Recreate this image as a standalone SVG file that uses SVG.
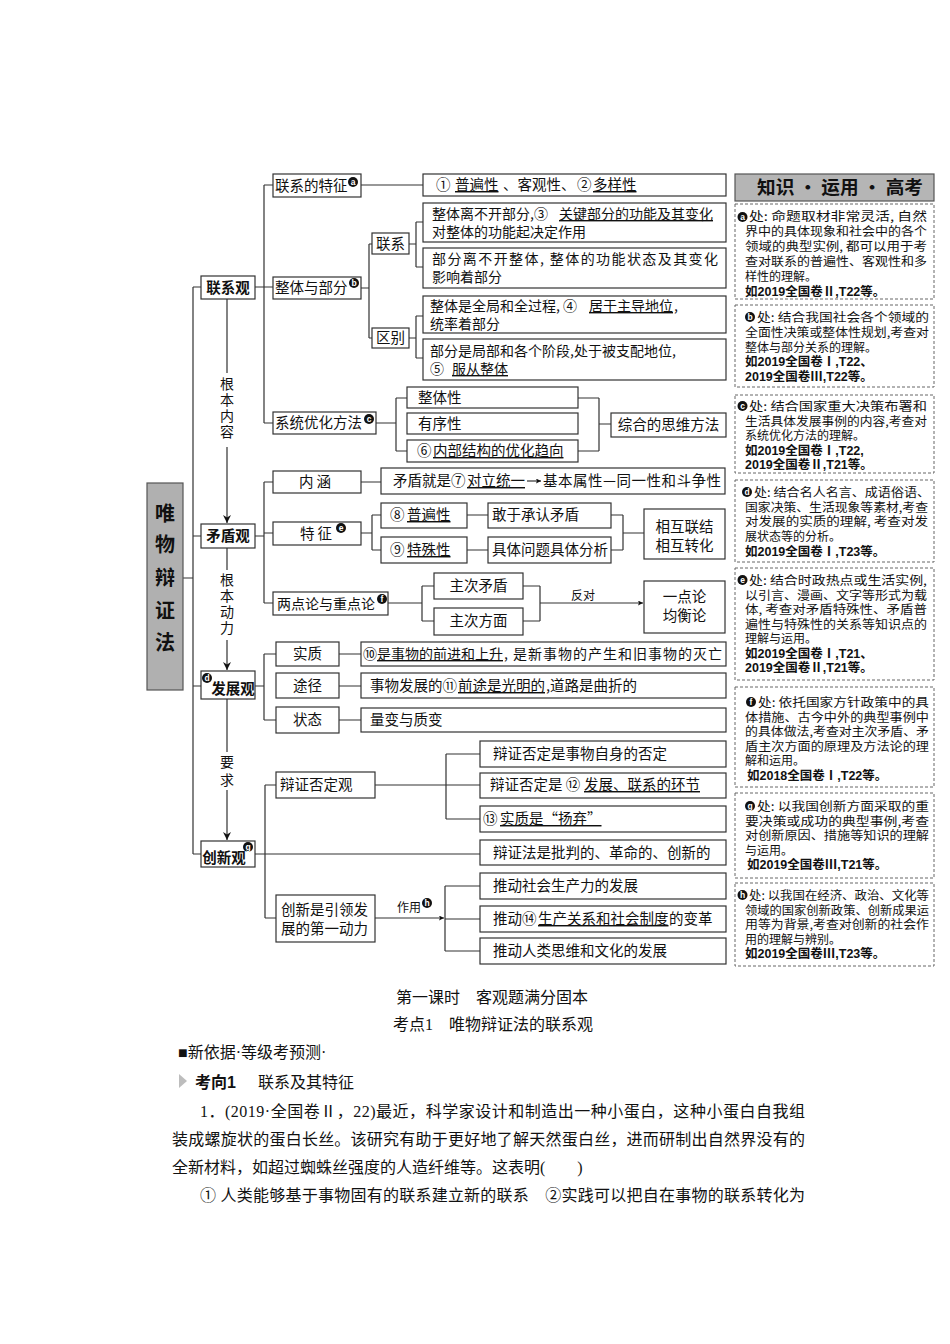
<svg xmlns="http://www.w3.org/2000/svg" width="950" height="1344" viewBox="0 0 950 1344">
<style>
.bx{fill:#fff;stroke:#333;stroke-width:1.2}
.ln{fill:none;stroke:#333;stroke-width:1.2}
.ds{fill:#fff;stroke:#666;stroke-width:1;stroke-dasharray:3,2}
text{font-family:"Noto Sans CJK SC","Noto Sans CJK JP",sans-serif;fill:#111}
.t{font-size:14.5px}
.t2{font-size:14px}
.tb{font-size:14.5px;font-weight:bold}
.vt{font-size:14px;writing-mode:vertical-rl;letter-spacing:2px}
.sm{font-size:12px}
.r{font-size:12px}
.rb{font-size:12.5px;font-weight:bold;font-family:"Liberation Sans","Noto Sans CJK SC",sans-serif}
.u{text-decoration:underline}
.bd{fill:#111}
.bl{font-size:8.5px;font-weight:bold;fill:#fff;font-family:"Liberation Sans",sans-serif}
.p{font-size:16px;font-family:"Liberation Serif","Noto Sans CJK SC",serif}
.m{text-anchor:middle}
</style>
<defs>
<marker id="ah" viewBox="0 0 10 10" refX="10" refY="5" markerWidth="13" markerHeight="8" markerUnits="userSpaceOnUse" orient="auto"><path d="M0,0 L10,5 L0,10 L3,5 z" fill="#111"/></marker>
<marker id="as" viewBox="0 0 10 10" refX="10" refY="5" markerWidth="7" markerHeight="5" markerUnits="userSpaceOnUse" orient="auto"><path d="M0,0 L10,5 L0,10 L2,5 z" fill="#111"/></marker>
</defs>

<g id="connectors">
<path class="ln" d="M183,578 H193 M193,287 V854 M193,287 H201 M193,536 H201 M193,686 H201 M193,854 H201"/>
<path class="ln" d="M227,299 V373 M227,447 V523" marker-end="url(#ah)"/>
<path class="ln" d="M227,548 V570 M227,640 V670" marker-end="url(#ah)"/>
<path class="ln" d="M227,699 V752 M227,790 V840" marker-end="url(#ah)"/>
<path class="ln" d="M255,287 H273 M264,185 V423 M264,185 H273 M264,423 H273 M361,185 H423"/>
<path class="ln" d="M361,288 H369 M369,244 V338 M369,244 H372 M369,338 H372"/>
<path class="ln" d="M409,244 H416 M416,222 V267 M416,222 H423 M416,267 H423"/>
<path class="ln" d="M409,338 H416 M416,316 V358 M416,316 H423 M416,358 H423"/>
<path class="ln" d="M376,423 H396 M396,398 V451 M396,398 H407 M396,451 H407"/>
<path class="ln" d="M578,398 H599 M578,451 H599 M599,398 V451 M599,424 H611"/>
<path class="ln" d="M255,536 H264 M264,482 V603 M264,482 H273 M264,533 H273 M264,603 H273 M361,482 H381"/>
<path class="ln" d="M361,533 H372 M372,515 V550 M372,515 H381 M372,550 H381 M467,515 H488 M467,550 H488"/>
<path class="ln" d="M611,515 H623 M611,550 H623 M623,515 V550 M623,533 H644"/>
<path class="ln" d="M388,603 H422 M422,586 V621 M422,586 H434 M422,621 H434 M523,586 H540 M523,621 H540 M540,586 V621"/>
<path class="ln" d="M540,603 H643" marker-end="url(#as)"/>
<path class="ln" d="M255,686 H264 M264,654 V720 M264,654 H276 M264,720 H276 M339,654 H361 M339,686 H361 M339,720 H361"/>
<path class="ln" d="M255,854 H480 M265,785 V918 M265,785 H276 M265,918 H276"/>
<path class="ln" d="M375,785 H480 M446,754 V819 M446,754 H480 M446,819 H480"/>
<path class="ln" d="M375,918 H444" marker-end="url(#as)"/>
<path class="ln" d="M445,886 V951 M445,886 H480 M445,919 H480 M445,951 H480"/>
</g>

<g id="root">
<rect x="147" y="483" width="36" height="207" fill="#b0b0b0" stroke="#555" stroke-width="1.2"/>
<text x="165" y="521" class="m" style="font-size:20px;font-weight:bold">唯</text>
<text x="165" y="552" class="m" style="font-size:20px;font-weight:bold">物</text>
<text x="165" y="585" class="m" style="font-size:20px;font-weight:bold">辩</text>
<text x="165" y="618" class="m" style="font-size:20px;font-weight:bold">证</text>
<text x="165" y="650" class="m" style="font-size:20px;font-weight:bold">法</text>
</g>

<g id="labels">
<text x="227" y="377" class="vt">根本内容</text>
<text x="227" y="573" class="vt">根本动力</text>
<text x="227" y="755" class="vt" style="letter-spacing:4px">要求</text>
<text x="583" y="600" class="sm m">反对</text>
<text x="409" y="912" class="sm m">作用</text>
<circle cx="427" cy="903" r="5" class="bd"/><text x="427" y="906" class="bl m">h</text>
</g>

<g id="n-lianxiguan"><rect x="201" y="276" width="54" height="23" class="bx"/><text x="228" y="293" class="tb m">联系观</text></g>
<g id="n-maodunguan"><rect x="201" y="524" width="54" height="24" class="bx"/><text x="228" y="541" class="tb m">矛盾观</text></g>
<g id="n-fazhanguan"><rect x="201" y="671" width="54" height="28" class="bx"/><text x="233" y="694" class="tb m">发展观</text><circle cx="207" cy="678" r="5" class="bd"/><text x="207" y="681" class="bl m">d</text></g>
<g id="n-chuangxinguan"><rect x="201" y="841" width="54" height="26" class="bx"/><text x="224" y="863" class="tb m">创新观</text><circle cx="248" cy="847" r="5" class="bd"/><text x="248" y="850" class="bl m">g</text></g>

<g id="n-tezheng"><rect x="273" y="174" width="88" height="23" class="bx"/><text x="275" y="191" class="t">联系的特征</text><circle cx="353" cy="182" r="5" class="bd"/><text x="353" y="185" class="bl m">a</text></g>
<g id="n-tezheng-c"><rect x="423" y="174" width="303" height="22" class="bx"/>
<text x="436" y="190" class="t">①</text>
<text x="455" y="190" class="t u">普遍性 </text>
<text x="503" y="190" class="t">、客观性、</text>
<text x="577" y="190" class="t">②</text>
<text x="593" y="190" class="t u">多样性</text></g>
<g id="n-zhengti"><rect x="273" y="277" width="88" height="22" class="bx"/><text x="275" y="293" class="t">整体与部分</text><circle cx="354" cy="283" r="5" class="bd"/><text x="354" y="286" class="bl m">b</text></g>
<g id="n-lianxi"><rect x="372" y="233" width="37" height="21" class="bx"/><text x="390.5" y="249" class="t m">联系</text></g>
<g id="n-qubie"><rect x="372" y="328" width="37" height="20" class="bx"/><text x="390.5" y="343" class="t m">区别</text></g>
<g id="n-lx1"><rect x="423" y="203" width="303" height="39" class="bx"/>
<text x="432" y="219" class="t2">整体离不开部分,③</text>
<text x="559" y="219" class="t2 u">关键部分的功能及其变化</text>
<text x="432" y="237" class="t2">对整体的功能起决定作用</text></g>
<g id="n-lx2"><rect x="423" y="248" width="303" height="40" class="bx"/>
<text x="432" y="264" class="t2" textLength="286">部分离不开整体, 整体的功能状态及其变化</text>
<text x="432" y="282" class="t2">影响着部分</text></g>
<g id="n-qb1"><rect x="423" y="296" width="303" height="37" class="bx"/>
<text x="430" y="311" class="t2">整体是全局和全过程, ④</text>
<text x="589" y="311" class="t2 u">居于主导地位</text>
<text x="674" y="311" class="t2">,</text>
<text x="430" y="329" class="t2">统率着部分</text></g>
<g id="n-qb2"><rect x="423" y="339" width="303" height="41" class="bx"/>
<text x="430" y="356" class="t2">部分是局部和各个阶段,处于被支配地位,</text>
<text x="430" y="374" class="t2">⑤</text>
<text x="452" y="374" class="t2 u">服从整体</text></g>
<g id="n-xitong"><rect x="273" y="412" width="103" height="22" class="bx"/><text x="275" y="428" class="t">系统优化方法</text><circle cx="369" cy="419" r="5" class="bd"/><text x="369" y="422" class="bl m">c</text></g>
<g id="n-zhengtixing"><rect x="407" y="387" width="171" height="21" class="bx"/><text x="418" y="403" class="t">整体性</text></g>
<g id="n-youxuxing"><rect x="407" y="413" width="171" height="21" class="bx"/><text x="418" y="429" class="t">有序性</text></g>
<g id="n-youhua"><rect x="407" y="440" width="171" height="22" class="bx"/><text x="417" y="456" class="t">⑥</text><text x="433" y="456" class="t u">内部结构的优化趋向</text></g>
<g id="n-zonghe"><rect x="611" y="413" width="115" height="24" class="bx"/><text x="668.5" y="430" class="t m">综合的思维方法</text></g>

<g id="n-neihan"><rect x="273" y="471" width="88" height="22" class="bx"/><text x="315" y="487" class="t m">内  涵</text></g>
<g id="n-neihan-c"><rect x="381" y="468" width="344" height="26" class="bx"/>
<text x="393" y="486" class="t">矛盾就是⑦</text>
<text x="467" y="486" class="t u">对立统一</text>
<path class="ln" d="M527,481 H541" marker-end="url(#as)"/>
<text x="543" y="486" class="t" textLength="178">基本属性—同一性和斗争性</text></g>
<g id="n-tezheng2"><rect x="273" y="522" width="88" height="23" class="bx"/><text x="316" y="539" class="t m">特  征</text><circle cx="341" cy="528" r="5" class="bd"/><text x="341" y="531" class="bl m">e</text></g>
<g id="n-pubian"><rect x="381" y="503" width="86" height="25" class="bx"/><text x="390" y="520" class="t">⑧</text><text x="407" y="520" class="t u">普遍性</text></g>
<g id="n-teshu"><rect x="381" y="537" width="86" height="26" class="bx"/><text x="390" y="555" class="t">⑨</text><text x="407" y="555" class="t u">特殊性</text></g>
<g id="n-ganyu"><rect x="488" y="503" width="123" height="25" class="bx"/><text x="492" y="520" class="t">敢于承认矛盾</text></g>
<g id="n-juti"><rect x="488" y="537" width="123" height="26" class="bx"/><text x="492" y="555" class="t">具体问题具体分析</text></g>
<g id="n-xianghu"><rect x="644" y="509" width="81" height="50" class="bx"/><text x="684.5" y="532" class="t m">相互联结</text><text x="684.5" y="551" class="t m">相互转化</text></g>
<g id="n-liangdian"><rect x="273" y="592" width="115" height="23" class="bx"/><text x="277" y="609" class="t" style="font-size:14px">两点论与重点论</text><circle cx="382" cy="599" r="5" class="bd"/><text x="382" y="602" class="bl m">f</text></g>
<g id="n-zhuci1"><rect x="434" y="573" width="89" height="26" class="bx"/><text x="478.5" y="591" class="t m">主次矛盾</text></g>
<g id="n-zhuci2"><rect x="434" y="608" width="89" height="27" class="bx"/><text x="478.5" y="626" class="t m">主次方面</text></g>
<g id="n-yidian"><rect x="644" y="581" width="81" height="52" class="bx"/><text x="684.5" y="602" class="t m">一点论</text><text x="684.5" y="621" class="t m">均衡论</text></g>

<g id="n-shizhi"><rect x="276" y="642" width="63" height="24" class="bx"/><text x="307.5" y="659" class="t m">实质</text></g>
<g id="n-shizhi-c"><rect x="361" y="642" width="365" height="24" class="bx"/>
<text x="363" y="659" class="t2">⑩</text>
<text x="377" y="659" class="t2 u">是事物的前进和上升</text>
<text x="504" y="659" class="t2" textLength="218">, 是新事物的产生和旧事物的灭亡</text></g>
<g id="n-tujing"><rect x="276" y="673" width="63" height="25" class="bx"/><text x="307.5" y="691" class="t m">途径</text></g>
<g id="n-tujing-c"><rect x="361" y="673" width="365" height="25" class="bx"/>
<text x="370" y="691" class="t">事物发展的⑪</text>
<text x="458" y="691" class="t u">前途是光明的</text>
<text x="546" y="691" class="t">,道路是曲折的</text></g>
<g id="n-zhuangtai"><rect x="276" y="707" width="63" height="26" class="bx"/><text x="307.5" y="725" class="t m">状态</text></g>
<g id="n-zhuangtai-c"><rect x="361" y="708" width="365" height="24" class="bx"/><text x="370" y="725" class="t">量变与质变</text></g>

<g id="n-fouding"><rect x="276" y="772" width="99" height="26" class="bx"/><text x="280" y="790" class="t">辩证否定观</text></g>
<g id="n-fd1"><rect x="480" y="741" width="246" height="26" class="bx"/><text x="493" y="759" class="t">辩证否定是事物自身的否定</text></g>
<g id="n-fd2"><rect x="480" y="773" width="246" height="25" class="bx"/><text x="490" y="790" class="t">辩证否定是 ⑫</text><text x="584" y="790" class="t u">发展、联系的环节</text></g>
<g id="n-fd3"><rect x="480" y="806" width="246" height="26" class="bx"/><text x="483" y="824" class="t">⑬</text><text x="500" y="824" class="t u">实质是“扬弃”</text></g>
<g id="n-bianzhengfa"><rect x="480" y="840" width="246" height="25" class="bx"/><text x="493" y="858" class="t">辩证法是批判的、革命的、创新的</text></g>
<g id="n-dongli"><rect x="276" y="895" width="99" height="47" class="bx"/><text x="281" y="915" class="t">创新是引领发</text><text x="281" y="934" class="t">展的第一动力</text></g>
<g id="n-zy1"><rect x="480" y="873" width="246" height="26" class="bx"/><text x="493" y="891" class="t">推动社会生产力的发展</text></g>
<g id="n-zy2"><rect x="480" y="906" width="246" height="26" class="bx"/><text x="493" y="924" class="t">推动⑭</text><text x="538" y="924" class="t u">生产关系和社会制度</text><text x="669" y="924" class="t">的变革</text></g>
<g id="n-zy3"><rect x="480" y="938" width="246" height="26" class="bx"/><text x="493" y="956" class="t">推动人类思维和文化的发展</text></g>

<g id="panel">
<rect x="735" y="174" width="199" height="27" fill="#b5b5b5" stroke="#555" stroke-width="1.2"/>
<text x="840" y="194" class="m" style="font-size:18px;font-weight:bold" textLength="166" lengthAdjust="spacingAndGlyphs">知识 · 运用 · 高考</text>

<rect x="735" y="204" width="199" height="95" class="ds"/>
<circle cx="742.5" cy="217" r="5" class="bd"/><text x="742.5" y="220" class="bl m">a</text>
<text x="749" y="221" class="r" textLength="178" lengthAdjust="spacingAndGlyphs">处: 命题取材非常灵活, 自然</text>
<text x="745" y="236" class="r" textLength="182" lengthAdjust="spacingAndGlyphs">界中的具体现象和社会中的各个</text>
<text x="745" y="251" class="r" textLength="182" lengthAdjust="spacingAndGlyphs">领域的典型实例, 都可以用于考</text>
<text x="745" y="266" class="r" textLength="182" lengthAdjust="spacingAndGlyphs">查对联系的普遍性、客观性和多</text>
<text x="745" y="281" class="r">样性的理解。</text>
<text x="745" y="296" class="rb">如2019全国卷Ⅱ,T22等。</text>

<rect x="735" y="305" width="199" height="82" class="ds"/>
<circle cx="750" cy="317" r="5" class="bd"/><text x="750" y="320" class="bl m">b</text>
<text x="757" y="322" class="r" textLength="172" lengthAdjust="spacingAndGlyphs">处: 结合我国社会各个领域的</text>
<text x="745" y="337" class="r" textLength="184" lengthAdjust="spacingAndGlyphs">全面性决策或整体性规划,考查对</text>
<text x="745" y="352" class="r">整体与部分关系的理解。</text>
<text x="745" y="366" class="rb">如2019全国卷Ⅰ,T22、</text>
<text x="745" y="381" class="rb">2019全国卷Ⅲ,T22等。</text>

<rect x="735" y="395" width="199" height="78" class="ds"/>
<circle cx="742.5" cy="406" r="5" class="bd"/><text x="742.5" y="409" class="bl m">c</text>
<text x="749" y="411" class="r" textLength="178" lengthAdjust="spacingAndGlyphs">处: 结合国家重大决策布署和</text>
<text x="745" y="425.5" class="r" textLength="182" lengthAdjust="spacingAndGlyphs">生活具体发展事例的内容,考查对</text>
<text x="745" y="440" class="r">系统优化方法的理解。</text>
<text x="745" y="454.5" class="rb">如2019全国卷Ⅰ,T22,</text>
<text x="745" y="469" class="rb">2019全国卷Ⅱ,T21等。</text>

<rect x="735" y="480" width="199" height="82" class="ds"/>
<circle cx="747" cy="492" r="5" class="bd"/><text x="747" y="495" class="bl m">d</text>
<text x="754" y="497" class="r" textLength="176" lengthAdjust="spacingAndGlyphs">处: 结合名人名言、成语俗语、</text>
<text x="745" y="511.5" class="r" textLength="183" lengthAdjust="spacingAndGlyphs">国家决策、生活现象等素材,考查</text>
<text x="745" y="526" class="r" textLength="183" lengthAdjust="spacingAndGlyphs">对发展的实质的理解, 考查对发</text>
<text x="745" y="541" class="r">展状态等的分析。</text>
<text x="745" y="556" class="rb">如2019全国卷Ⅰ,T23等。</text>

<rect x="735" y="568" width="199" height="112" class="ds"/>
<circle cx="742.5" cy="580" r="5" class="bd"/><text x="742.5" y="583" class="bl m">e</text>
<text x="749" y="585" class="r" textLength="178" lengthAdjust="spacingAndGlyphs">处: 结合时政热点或生活实例,</text>
<text x="745" y="599.5" class="r" textLength="182" lengthAdjust="spacingAndGlyphs">以引言、漫画、文字等形式为载</text>
<text x="745" y="614" class="r" textLength="182" lengthAdjust="spacingAndGlyphs">体, 考查对矛盾特殊性、矛盾普</text>
<text x="745" y="628.5" class="r" textLength="182" lengthAdjust="spacingAndGlyphs">遍性与特殊性的关系等知识点的</text>
<text x="745" y="643" class="r">理解与运用。</text>
<text x="745" y="657.5" class="rb">如2019全国卷Ⅰ,T21、</text>
<text x="745" y="672" class="rb">2019全国卷Ⅱ,T21等。</text>

<rect x="735" y="687" width="199" height="100" class="ds"/>
<circle cx="751" cy="702" r="5" class="bd"/><text x="751" y="705" class="bl m">f</text>
<text x="758" y="707" class="r" textLength="171" lengthAdjust="spacingAndGlyphs">处: 依托国家方针政策中的具</text>
<text x="745" y="721.5" class="r" textLength="184" lengthAdjust="spacingAndGlyphs">体措施、古今中外的典型事例中</text>
<text x="745" y="736" class="r" textLength="184" lengthAdjust="spacingAndGlyphs">的具体做法,考查对主次矛盾、矛</text>
<text x="745" y="750.5" class="r" textLength="184" lengthAdjust="spacingAndGlyphs">盾主次方面的原理及方法论的理</text>
<text x="745" y="765" class="r">解和运用。</text>
<text x="747" y="779.5" class="rb">如2018全国卷Ⅰ,T22等。</text>

<rect x="735" y="793" width="199" height="85" class="ds"/>
<circle cx="750" cy="806" r="5" class="bd"/><text x="750" y="809" class="bl m">g</text>
<text x="757" y="811" class="r" textLength="172" lengthAdjust="spacingAndGlyphs">处: 以我国创新方面采取的重</text>
<text x="745" y="825.5" class="r" textLength="184" lengthAdjust="spacingAndGlyphs">要决策或成功的典型事例,考查</text>
<text x="745" y="840" class="r" textLength="184" lengthAdjust="spacingAndGlyphs">对创新原因、措施等知识的理解</text>
<text x="745" y="854.5" class="r">与运用。</text>
<text x="747" y="869" class="rb">如2019全国卷Ⅲ,T21等。</text>

<rect x="735" y="883" width="199" height="83" class="ds"/>
<circle cx="742.5" cy="895" r="5" class="bd"/><text x="742.5" y="898" class="bl m">h</text>
<text x="749" y="900" class="r" textLength="180" lengthAdjust="spacingAndGlyphs">处: 以我国在经济、政治、文化等</text>
<text x="745" y="914.5" class="r" textLength="184" lengthAdjust="spacingAndGlyphs">领域的国家创新政策、创新成果运</text>
<text x="745" y="929" class="r" textLength="184" lengthAdjust="spacingAndGlyphs">用等为背景,考查对创新的社会作</text>
<text x="745" y="943.5" class="r">用的理解与辨别。</text>
<text x="745" y="958" class="rb">如2019全国卷Ⅲ,T23等。</text>
</g>

<g id="body">
<text x="492" y="1003" class="p m">第一课时　客观题满分固本</text>
<text x="493" y="1030" class="p m">考点1　唯物辩证法的联系观</text>
<text x="178" y="1058" class="p">■新依据·等级考预测·</text>
<path d="M179,1074 L187,1081 L179,1088 z" fill="#bdbdbd"/>
<text x="195" y="1088" class="p" style="font-weight:bold;font-family:'Liberation Sans','Noto Sans CJK SC',sans-serif">考向1</text>
<text x="258" y="1088" class="p">联系及其特征</text>
<text x="200" y="1117" class="p" textLength="605">1．(2019·全国卷Ⅱ，22)最近，科学家设计和制造出一种小蛋白，这种小蛋白自我组</text>
<text x="172" y="1145" class="p" textLength="633">装成螺旋状的蛋白长丝。该研究有助于更好地了解天然蛋白丝，进而研制出自然界没有的</text>
<text x="172" y="1173" class="p">全新材料，如超过蜘蛛丝强度的人造纤维等。这表明(　　)</text>
<text x="200" y="1201" class="p" textLength="605">① 人类能够基于事物固有的联系建立新的联系　②实践可以把自在事物的联系转化为</text>
</g>
</svg>
